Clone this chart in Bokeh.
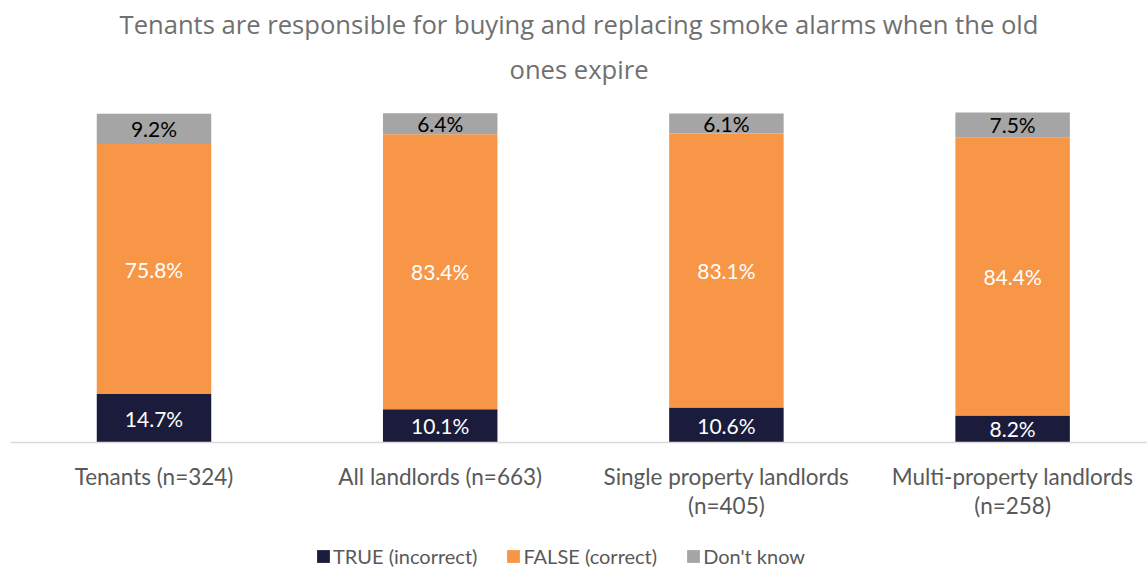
from bokeh.plotting import figure
from bokeh.models import (Range1d, FixedTicker, LabelSet, ColumnDataSource,
                          Legend, LegendItem, Title)
from bokeh.core.properties import value
from bokeh.embed import file_html
from bokeh.resources import INLINE

categories = ["Tenants (n=324)", "All landlords (n=663)",
              "Single property landlords\n(n=405)", "Multi-property landlords\n(n=258)"]
series_names = ["TRUE (incorrect)", "FALSE (correct)", "Don't know"]
true_vals = [14.7, 10.1, 10.6, 8.2]
false_vals = [75.8, 83.4, 83.1, 84.4]
dk_vals = [9.2, 6.4, 6.1, 7.5]
title_lines = ["Tenants are responsible for buying and replacing smoke alarms when the old",
               "ones expire"]

colors = ["#1B1B3B", "#F79646", "#A5A5A5"]
label_colors = ["#FFFFFF", "#FFFFFF", "#000000"]
FONT = "Lato"
TFONT = "Open Sans"

xs = list(range(len(categories)))
keys = ["t", "f", "d"]
src = ColumnDataSource(dict(x=xs, t=true_vals, f=false_vals, d=dk_vals))

# the frame reaches the bottom edge; the category axis sits at y=0 inside it
p = figure(width=1147, height=568, output_backend="svg", toolbar_location=None,
           x_range=Range1d(-0.5014, 3.4713), y_range=Range1d(-38.22, 103.73),
           min_border_left=10, min_border_right=0, min_border_top=100, min_border_bottom=0)
p.outline_line_color = None
p.grid.visible = False
p.yaxis.visible = False

# title: the built-in title ends up farthest from the plot, the added one closest
def style_title(t, standoff):
    t.align = "center"
    t.text_font = TFONT
    t.text_font_size = "25.6px"
    t.text_font_style = "normal"
    t.text_color = "#707070"
    t.standoff = standoff

p.title.text = title_lines[0]
style_title(p.title, -10)
t2 = Title(text=title_lines[1])
style_title(t2, 27)
p.add_layout(t2, "above")

rs = p.vbar_stack(keys, x="x", width=0.4, color=colors, source=src, line_color=None)

# x axis
ax = p.xaxis[0]
ax.fixed_location = 0
ax.ticker = FixedTicker(ticks=xs)
ax.major_label_overrides = {i: c for i, c in zip(xs, categories)}
ax.major_tick_line_color = None
ax.minor_tick_line_color = None
ax.major_tick_out = 0
ax.major_tick_in = 0
ax.axis_line_color = "#D9D9D9"
ax.axis_line_width = 1.5
ax.major_label_standoff = 21
ax.major_label_text_font = FONT
ax.major_label_text_font_size = "22.5px"
ax.major_label_text_line_height = 1.05
ax.major_label_text_color = "#595959"

# segment labels
series = [true_vals, false_vals, dk_vals]
bottom = [0.0] * len(xs)
for vals, col in zip(series, label_colors):
    mids = [b + v / 2 for b, v in zip(bottom, vals)]
    txt = [f"{v:.1f}%" for v in vals]
    s = ColumnDataSource(dict(x=xs, y=mids, t=txt))
    p.add_layout(LabelSet(x="x", y="y", text="t", source=s, text_align="center",
                          text_baseline="middle", text_color=col, text_font=value(FONT),
                          text_font_size="21px"))
    bottom = [b + v for b, v in zip(bottom, vals)]

legend = Legend(items=[LegendItem(label=n, renderers=[r]) for n, r in zip(series_names, rs)],
                orientation="horizontal", location=(305, 0), padding=0, margin=0,
                spacing=28, label_standoff=2, glyph_width=16, glyph_height=16,
                label_text_font=FONT, label_text_font_size="20px", label_text_color="#595959",
                border_line_color=None, background_fill_alpha=0)
p.add_layout(legend, "center")

open("out.html", "w").write(file_html(p, INLINE))
